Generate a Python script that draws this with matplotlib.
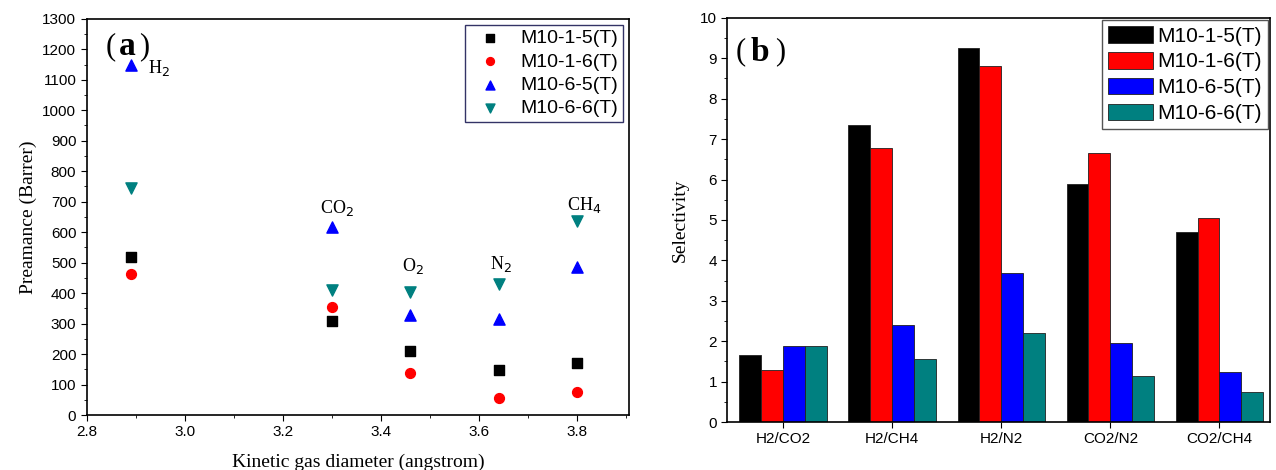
import matplotlib.pyplot as plt
import numpy as np
from matplotlib.ticker import MultipleLocator

# (a) permeance vs kinetic diameter
diam = [2.89, 3.30, 3.46, 3.64, 3.80]
gases = ["H$_2$", "CO$_2$", "O$_2$", "N$_2$", "CH$_4$"]
m15 = [518, 308, 210, 148, 172]
m16 = [463, 355, 137, 57, 75]
m65 = [1150, 617, 327, 315, 485]
m66 = [745, 410, 405, 430, 637]
gas_label_x = [2.925, 3.31, 3.465, 3.645, 3.815]
gas_label_y = [1140, 680, 490, 495, 690]
gas_label_ha = ["left", "center", "center", "center", "center"]

# (b) selectivity
pairs = ["H2/CO2", "H2/CH4", "H2/N2", "CO2/N2", "CO2/CH4"]
s15 = [1.65, 7.35, 9.25, 5.9, 4.7]
s16 = [1.28, 6.78, 8.8, 6.65, 5.05]
s65 = [1.88, 2.4, 3.7, 1.95, 1.25]
s66 = [1.88, 1.55, 2.2, 1.15, 0.75]

names = ["M10-1-5(T)", "M10-1-6(T)", "M10-6-5(T)", "M10-6-6(T)"]
colors = ["black", "red", "blue", "#008080"]

sans = "Liberation Sans"
serif = "Liberation Serif"

fig = plt.figure(figsize=(12.76, 4.70), dpi=100)
ax1 = fig.add_axes([0.068, 0.117, 0.425, 0.843])
ax2 = fig.add_axes([0.570, 0.102, 0.425, 0.860])


def panel_tag(ax, letter, xs, y):
    # thin parentheses around a bold serif letter
    ax.text(xs[0], y, "(", transform=ax.transAxes, fontsize=22, family=serif, ha="center", va="center")
    ax.text(xs[1], y, letter, transform=ax.transAxes, fontsize=24, weight="bold", family=serif,
            ha="center", va="center")
    ax.text(xs[2], y, ")", transform=ax.transAxes, fontsize=22, family=serif, ha="center", va="center")


# ---- panel a
markers = ["s", "o", "^", "v"]
sizes = [45, 50, 65, 65]
for vals, c, m, s, n in zip([m15, m16, m65, m66], colors, markers, sizes, names):
    ax1.scatter(diam, vals, color=c, marker=m, s=s, label=n, zorder=3)
for x, y, g, ha in zip(gas_label_x, gas_label_y, gases, gas_label_ha):
    ax1.text(x, y, g, fontsize=13, family=serif, ha=ha, va="center")

ax1.set_xlim(2.8, 3.906)
ax1.set_ylim(0, 1300)
ax1.xaxis.set_major_locator(MultipleLocator(0.2))
ax1.xaxis.set_minor_locator(MultipleLocator(0.1))
ax1.yaxis.set_major_locator(MultipleLocator(100))
ax1.yaxis.set_minor_locator(MultipleLocator(50))
ax1.set_xlabel("Kinetic gas diameter (angstrom)", family=serif, fontsize=14, labelpad=10)
ax1.set_ylabel("Preamance (Barrer)", family=serif, fontsize=14)
panel_tag(ax1, "a", [0.045, 0.075, 0.105], 0.93)
leg1 = ax1.legend(loc="upper right", prop={"family": sans, "size": 14}, fancybox=False,
                  handletextpad=0.6, borderaxespad=0.3, labelspacing=0.3, borderpad=0.25,
                  markerscale=0.8, framealpha=1)
leg1.get_frame().set_edgecolor("#333366")

# ---- panel b
x = np.arange(len(pairs))
w = 0.2
for i, (vals, c, n) in enumerate(zip([s15, s16, s65, s66], colors, names)):
    ax2.bar(x + (i - 1.5) * w, vals, width=w, color=c, edgecolor="#202020", linewidth=0.6, label=n)
ax2.set_xlim(-0.51, 4.46)
ax2.set_ylim(0, 10)
ax2.set_xticks(x)
ax2.set_xticklabels(pairs)
ax2.yaxis.set_major_locator(MultipleLocator(1))
ax2.yaxis.set_minor_locator(MultipleLocator(0.5))
ax2.set_ylabel("Selectivity", family=serif, fontsize=14, labelpad=8)
panel_tag(ax2, "b", [0.025, 0.060, 0.097], 0.915)
leg2 = ax2.legend(loc="upper right", prop={"family": sans, "size": 15}, fancybox=False,
                  handlelength=2.15, handleheight=0.85, handletextpad=0.2, borderaxespad=0.1,
                  labelspacing=0.3, borderpad=0.3, framealpha=1)
leg2.get_frame().set_edgecolor("#555555")

for ax in (ax1, ax2):
    ax.tick_params(which="both", direction="out", labelsize=11)
    ax.tick_params(which="major", length=4)
    ax.tick_params(which="minor", length=2)
    ax.tick_params(top=False, right=False)
    for lab in ax.get_xticklabels() + ax.get_yticklabels():
        lab.set_family(sans)
    for sp in ax.spines.values():
        sp.set_linewidth(1.2)

fig.savefig("out.png", dpi=100)
